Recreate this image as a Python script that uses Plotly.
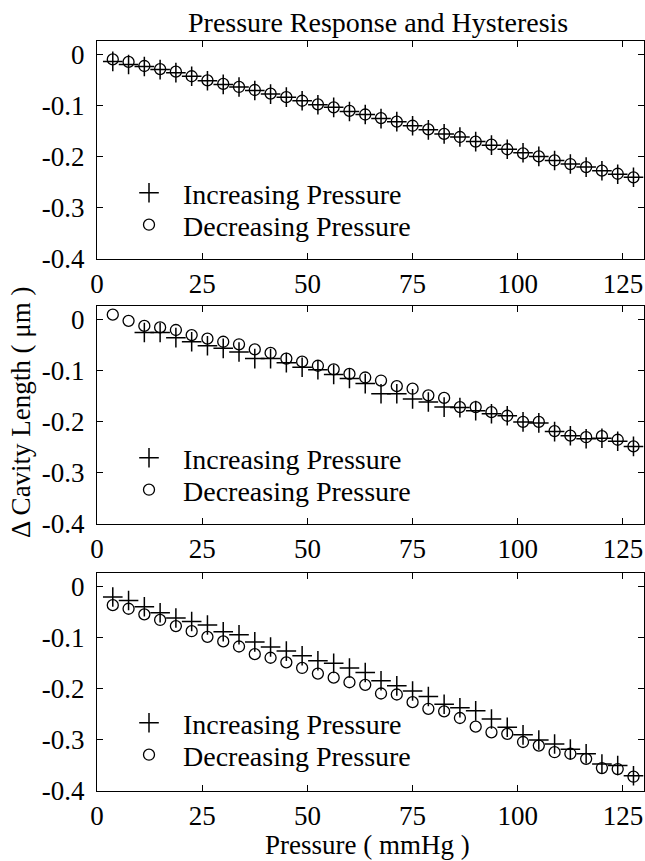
import plotly.graph_objects as go

# ---------------- data ----------------
pressure_mmHg = [3.75, 7.5, 11.25, 15.0, 18.75, 22.5, 26.25, 30.0, 33.75, 37.5,
                 41.25, 45.0, 48.75, 52.5, 56.25, 60.0, 63.75, 67.5, 71.25, 75.0,
                 78.75, 82.5, 86.25, 90.0, 93.75, 97.5, 101.25, 105.0, 108.75, 112.5,
                 116.25, 120.0, 123.75, 127.5]

inc_panel1 = [-0.013, -0.019, -0.023, -0.029, -0.035, -0.042, -0.051, -0.058, -0.063, -0.070,
              -0.077, -0.083, -0.090, -0.098, -0.103, -0.111, -0.117, -0.125, -0.131, -0.139,
              -0.147, -0.155, -0.161, -0.170, -0.177, -0.185, -0.192, -0.199, -0.207, -0.214,
              -0.220, -0.227, -0.234, -0.240]
dec_panel1 = [-0.009, -0.014, -0.022, -0.028, -0.033, -0.042, -0.050, -0.057, -0.063, -0.069,
              -0.076, -0.083, -0.090, -0.097, -0.103, -0.110, -0.117, -0.124, -0.131, -0.139,
              -0.146, -0.155, -0.161, -0.170, -0.176, -0.185, -0.193, -0.199, -0.207, -0.214,
              -0.220, -0.227, -0.233, -0.240]

inc_panel2 = [None, None, -0.025, -0.025, -0.035, -0.043, -0.051, -0.056, -0.063, -0.076,
              -0.076, -0.084, -0.093, -0.098, -0.107, -0.115, -0.125, -0.145, -0.145, -0.155,
              -0.161, -0.171, -0.172, -0.178, -0.184, -0.188, -0.200, -0.202, -0.219, -0.227,
              -0.233, -0.232, -0.238, -0.248]
dec_panel2 = [0.010, -0.002, -0.012, -0.015, -0.020, -0.030, -0.037, -0.043, -0.048, -0.058,
              -0.065, -0.076, -0.082, -0.090, -0.097, -0.106, -0.113, -0.119, -0.130, -0.135,
              -0.148, -0.153, -0.171, -0.171, -0.181, -0.188, -0.200, -0.200, -0.218, -0.227,
              -0.230, -0.228, -0.235, -0.248]

inc_panel3 = [-0.020, -0.027, -0.039, -0.051, -0.061, -0.068, -0.075, -0.088, -0.094, -0.108,
              -0.118, -0.126, -0.135, -0.145, -0.150, -0.159, -0.168, -0.184, -0.194, -0.204,
              -0.215, -0.230, -0.237, -0.243, -0.259, -0.275, -0.290, -0.300, -0.308, -0.318,
              -0.327, -0.347, -0.350, -0.370]
dec_panel3 = [-0.036, -0.043, -0.054, -0.065, -0.077, -0.087, -0.098, -0.107, -0.117, -0.132,
              -0.139, -0.148, -0.159, -0.170, -0.178, -0.187, -0.192, -0.209, -0.211, -0.226,
              -0.239, -0.244, -0.257, -0.274, -0.285, -0.288, -0.304, -0.311, -0.324, -0.327,
              -0.337, -0.355, -0.357, -0.372]

x_tick_vals = [0, 25, 50, 75, 100, 125]
x_tick_text = ["0", "25", "50", "75", "100", "125"]
y_tick_vals = [0, -0.1, -0.2, -0.3, -0.4]
y_tick_text = ["0", "-0.1", "-0.2", "-0.3", "-0.4"]

series_names = ["Increasing Pressure", "Decreasing Pressure"]
title_text = "Pressure Response and Hysteresis"
x_title = "Pressure ( mmHg )"
y_title = "\u0394 Cavity Length ( \u03bcm )"

# ---------------- figure ----------------
FONT = "Liberation Serif"
W, H = 645, 861
ML, MR, MT, MB = 97, 1, 41, 70
PW = W - ML - MR
PH = H - MT - MB

def py(px):
    return (H - MB - px) / PH

def px_x(px):
    return (px - ML) / PW

panel_boxes = [(41, 259), (306, 524), (573, 791)]
legend_rows = [(195, 227), (460, 492), (725, 757)]
panels = [(inc_panel1, dec_panel1), (inc_panel2, dec_panel2), (inc_panel3, dec_panel3)]

fig = go.Figure()
layout = dict(
    width=W, height=H,
    margin=dict(l=ML, r=MR, t=MT, b=MB),
    paper_bgcolor="white", plot_bgcolor="white",
    font=dict(family=FONT, size=27, color="black"),
    showlegend=True,
)

LEG_ROW_OFFSET = 27  # legend top is this far above the row centre

for i, (inc, dec) in enumerate(panels):
    n = i + 1
    xa = "x" if n == 1 else f"x{n}"
    ya = "y" if n == 1 else f"y{n}"
    lg_inc = f"legend{2 * i + 1}" if i > 0 else "legend"
    lg_dec = f"legend{2 * i + 2}"
    fig.add_trace(go.Scatter(
        x=pressure_mmHg, y=inc, mode="markers", name=series_names[0],
        xaxis=xa, yaxis=ya, legend=lg_inc,
        marker=dict(symbol="cross-thin-open", size=14, color="black",
                    line=dict(color="black", width=1.5)),
    ))
    fig.add_trace(go.Scatter(
        x=pressure_mmHg, y=dec, mode="markers", name=series_names[1],
        xaxis=xa, yaxis=ya, legend=lg_dec,
        marker=dict(symbol="circle-open", size=11, color="black",
                    line=dict(color="black", width=1.3)),
    ))
    axis_common = dict(
        showline=True, linecolor="black", linewidth=1, mirror="ticks",
        ticks="inside", ticklen=6, tickwidth=1, tickcolor="black",
        showgrid=False, zeroline=False,
        tickfont=dict(family=FONT, size=27, color="black"),
    )
    top_px, bot_px = panel_boxes[i]
    layout["xaxis" if n == 1 else f"xaxis{n}"] = dict(
        axis_common, domain=[0, 1], range=[0, 130], anchor=ya,
        tickmode="array", tickvals=x_tick_vals, ticktext=x_tick_text,
        ticklabelstandoff=1,
    )
    layout["yaxis" if n == 1 else f"yaxis{n}"] = dict(
        axis_common, domain=[py(bot_px), py(top_px)], range=[-0.4, 0.027], anchor=xa,
        tickmode="array", tickvals=y_tick_vals, ticktext=y_tick_text,
        ticklabelstandoff=6,
    )
    for lg, row_px in ((lg_inc, legend_rows[i][0]), (lg_dec, legend_rows[i][1])):
        layout[lg] = dict(
            x=px_x(115), xanchor="left",
            y=py(row_px - LEG_ROW_OFFSET), yanchor="top",
            bgcolor="rgba(0,0,0,0)", borderwidth=0,
            font=dict(family=FONT, size=28, color="black"),
            itemwidth=58, tracegroupgap=0,
        )

layout["annotations"] = [
    dict(text=title_text, xref="paper", yref="paper", x=px_x(378),
         y=py(23), xanchor="center", yanchor="middle",
         showarrow=False, font=dict(family=FONT, size=28, color="black")),
    dict(text=x_title, xref="paper", yref="paper", x=px_x(367),
         y=py(845), xanchor="center", yanchor="middle",
         showarrow=False, font=dict(family=FONT, size=27, color="black")),
    dict(text=y_title, xref="paper", yref="paper", x=px_x(21),
         y=py(412), xanchor="center", yanchor="middle",
         textangle=-90, showarrow=False,
         font=dict(family=FONT, size=27, color="black")),
]

fig.update_layout(**layout)
fig.write_html(
    "out.html",
    config={"displayModeBar": False, "staticPlot": True},
    post_script="document.body.style.margin='0';document.body.style.overflow='hidden';",
)
